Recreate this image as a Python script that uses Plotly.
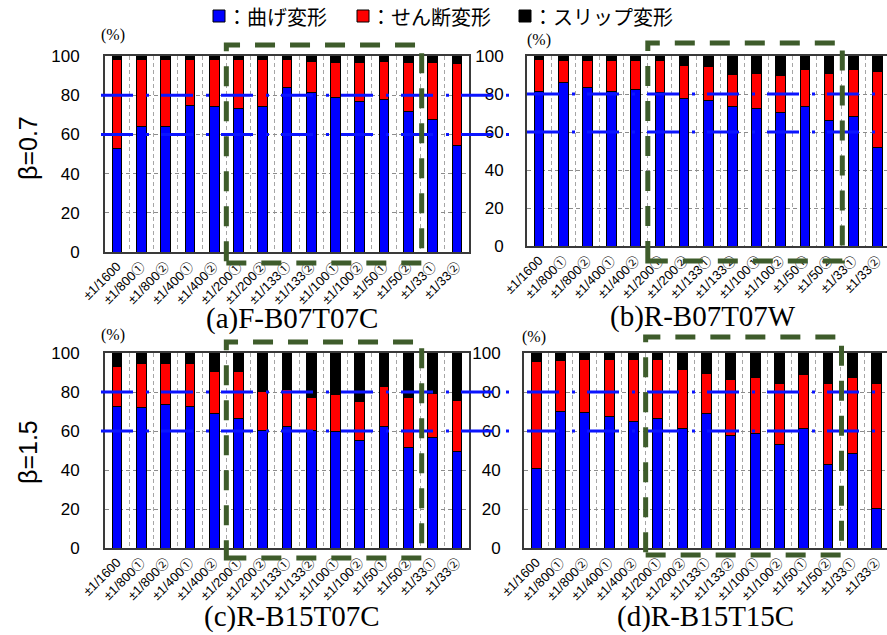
import plotly.graph_objects as go

W, H = 887, 635

categories = ["±1/1600", "±1/800①", "±1/800②", "±1/400①", "±1/400②",
              "±1/200①", "±1/200②", "±1/133①", "±1/133②", "±1/100①",
              "±1/100②", "±1/50①", "±1/50②", "±1/33①", "±1/33②"]

# Deformation share (%) per loading cycle: bending / shear / slip
bend_a = [52.7, 63.8, 63.8, 75.0, 74.0, 73.0, 74.0, 83.8, 81.3, 78.9, 77.0, 77.9, 71.6, 67.5, 54.4]
shear_a = [45.6, 34.2, 34.2, 23.0, 24.0, 25.3, 24.0, 14.2, 16.1, 18.0, 19.6, 19.5, 25.0, 29.4, 41.7]
slip_a = [1.7, 2.0, 2.0, 2.0, 2.0, 1.7, 2.0, 2.0, 2.6, 3.1, 3.4, 2.6, 3.4, 3.1, 3.9]

bend_b = [81.4, 86.0, 83.3, 81.4, 82.3, 80.7, 77.7, 76.8, 73.2, 72.6, 70.2, 73.2, 66.1, 68.1, 51.8]
shear_b = [16.5, 11.4, 14.1, 16.0, 15.1, 16.7, 17.2, 17.6, 17.3, 18.3, 19.3, 19.6, 24.8, 24.7, 40.1]
slip_b = [2.1, 2.6, 2.6, 2.6, 2.6, 2.6, 5.1, 5.6, 9.5, 9.1, 10.5, 7.2, 9.1, 7.2, 8.1]

bend_c = [72.5, 72.0, 73.5, 72.5, 68.9, 66.3, 60.3, 62.2, 60.3, 60.0, 55.0, 62.1, 51.5, 56.6, 49.4]
shear_c = [20.8, 22.4, 20.9, 21.9, 21.4, 24.0, 19.9, 19.0, 17.0, 18.8, 19.9, 20.5, 25.8, 22.7, 26.3]
slip_c = [6.7, 5.6, 5.6, 5.6, 9.7, 9.7, 19.8, 18.8, 22.7, 21.2, 25.1, 17.4, 22.7, 20.7, 24.3]

bend_d = [41.0, 69.9, 69.4, 67.4, 65.0, 66.3, 61.5, 69.1, 57.9, 58.5, 53.0, 61.4, 42.7, 48.4, 20.5]
shear_d = [54.7, 26.3, 27.4, 29.4, 31.8, 30.5, 30.1, 20.6, 28.3, 28.7, 31.6, 27.8, 41.9, 39.1, 64.1]
slip_d = [4.3, 3.8, 3.2, 3.2, 3.2, 3.2, 8.4, 10.3, 13.8, 12.8, 15.4, 10.8, 15.4, 12.5, 15.4]

panel_titles = ["(a)F-B07T07C", "(b)R-B07T07W", "(c)R-B15T07C", "(d)R-B15T15C"]
beta_labels = ["β=0.7", "β=1.5"]
component_names = ["曲げ変形", "せん断変形", "スリップ変形"]
component_colors = ["#0000ff", "#ff0000", "#000000"]
ref_levels = [80, 60]
y_ticks = [0, 20, 40, 60, 80, 100]
y_max = 100

# framed box from the first large-amplitude cycle up to the +1/33 cycles
box_first = "±1/200①"
box_last = "±1/33①"

data = [
    (bend_a, shear_a, slip_a),
    (bend_b, shear_b, slip_b),
    (bend_c, shear_c, slip_c),
    (bend_d, shear_d, slip_d),
]

# pixel geometry of each subplot (left, right, top, bottom) and extras
panels = [
    dict(px=(105, 469), py=(56, 252), xr=(-0.5, 14.5), mirror=True,
         box_y=(45, 263), ref_x=(101, 514), title=(292, 319), pct=(113, 35), tick_pad=20),
    dict(px=(527, 887), py=(56, 246), xr=(-0.5, 14.4), mirror=False,
         box_y=(43, 261), ref_x=(527, 880), title=(703, 316), pct=(539, 40), tick_pad=18),
    dict(px=(105, 469), py=(353, 548), xr=(-0.5, 14.5), mirror=True,
         box_y=(342, 558), ref_x=(101, 514), title=(292, 616), pct=(113, 335), tick_pad=20),
    dict(px=(524, 887), py=(353, 548), xr=(-0.5, 14.42), mirror=False,
         box_y=(337, 555), ref_x=(527, 880), title=(705, 616), pct=(534, 337), tick_pad=18),
]


def paper_x(px):
    return px / W


def paper_y(py):
    return 1 - py / H


fig = go.Figure()
layout = dict(
    width=W, height=H,
    margin=dict(l=0, r=0, t=0, b=0, autoexpand=False),
    paper_bgcolor="white", plot_bgcolor="white",
    barmode="stack",
    showlegend=False,
    shapes=[], annotations=[],
)

GRID = "#8c8c8c"
FRAME = "#3a3a3a"
GREEN = "#3e5c2b"
TICK_FONT = dict(family="Liberation Sans, Arial, sans-serif", size=17, color="black")
CAT_FONT = dict(family="Liberation Sans, Noto Sans CJK JP, sans-serif", size=13, color="black")

for i, (p, series) in enumerate(zip(panels, data)):
    sfx = "" if i == 0 else str(i + 1)
    xa, ya = "x" + sfx, "y" + sfx
    for vals, name, col in zip(series, component_names, component_colors):
        fig.add_trace(go.Bar(
            x=categories, y=vals, name=name, xaxis=xa, yaxis=ya,
            width=0.4, marker=dict(color=col, line=dict(color="black", width=1)),
            showlegend=False, hoverinfo="skip",
        ))

    x0, x1 = p["px"]
    y0, y1 = p["py"]
    layout["xaxis" + sfx] = dict(
        domain=[paper_x(x0), paper_x(x1)], anchor=ya, automargin=False,
        type="category", range=list(p["xr"]),
        tickson="boundaries", showgrid=True, gridcolor="#a6a6a6", griddash="4px,3px", gridwidth=1,
        showline=True, mirror=True, linecolor=FRAME, linewidth=1.5,
        ticks="outside", ticklen=6, tickcolor="rgba(0,0,0,0)",
        tickangle=-45, tickfont=CAT_FONT, fixedrange=True,
    )
    layout["yaxis" + sfx] = dict(
        domain=[paper_y(y1), paper_y(y0)], anchor=xa, automargin=False,
        range=[0, y_max], tickvals=y_ticks,
        showgrid=True, gridcolor=GRID, griddash="4px,3px", gridwidth=1, zeroline=False,
        showline=True, mirror=p["mirror"], linecolor=FRAME, linewidth=2,
        ticks="outside", ticklen=p["tick_pad"], tickcolor="rgba(0,0,0,0)",
        tickfont=TICK_FONT, fixedrange=True,
    )

    # reference levels drawn as blue dash-dot lines across the panel
    rx0 = (p["ref_x"][0] - x0) / (x1 - x0)
    rx1 = (p["ref_x"][1] - x0) / (x1 - x0)
    for lv in ref_levels:
        layout["shapes"].append(dict(
            type="line", xref=xa + " domain", yref=ya + " domain",
            x0=rx0, x1=rx1, y0=lv / y_max, y1=lv / y_max,
            line=dict(color="#0a14ff", width=3, dash="32px,13px,3px,12px"), layer="above",
        ))

    # dashed green frame around the large-amplitude cycles
    xr0, xr1 = p["xr"]
    bl = categories.index(box_first) - 0.5
    br = categories.index(box_last) - 0.45
    layout["shapes"].append(dict(
        type="rect", xref=xa + " domain", yref=ya + " domain",
        x0=(bl - xr0) / (xr1 - xr0), x1=(br - xr0) / (xr1 - xr0),
        y0=(y1 - p["box_y"][1]) / (y1 - y0), y1=(y1 - p["box_y"][0]) / (y1 - y0),
        line=dict(color=GREEN, width=5, dash="20px,15px"), layer="above",
    ))

    # panel caption and unit label
    tx, ty = p["title"]
    layout["annotations"].append(dict(
        text=panel_titles[i], x=paper_x(tx), y=paper_y(ty), xref="paper", yref="paper",
        xanchor="center", yanchor="middle", showarrow=False,
        font=dict(family="Liberation Serif, Times New Roman, serif", size=29, color="black"),
    ))
    ux, uy = p["pct"]
    layout["annotations"].append(dict(
        text="(%)", x=paper_x(ux), y=paper_y(uy), xref="paper", yref="paper",
        xanchor="center", yanchor="middle", showarrow=False,
        font=dict(family="Liberation Serif, Times New Roman, serif", size=16, color="black"),
    ))

# row labels
for lab, cy in zip(beta_labels, [148, 452]):
    layout["annotations"].append(dict(
        text=lab, x=paper_x(28), y=paper_y(cy), xref="paper", yref="paper",
        xanchor="center", yanchor="middle", textangle=-90, showarrow=False,
        font=dict(family="Liberation Sans, Arial, sans-serif", size=25, color="black"),
    ))

# legend row at the top
legend_x = [213, 357, 519]
sq = 12
legend_cy = 16
for name, col, lx in zip(component_names, component_colors, legend_x):
    layout["shapes"].append(dict(
        type="rect", xref="paper", yref="paper",
        x0=paper_x(lx), x1=paper_x(lx + sq),
        y0=paper_y(legend_cy + sq / 2), y1=paper_y(legend_cy - sq / 2),
        fillcolor=col, line=dict(color="black", width=1),
    ))
    layout["annotations"].append(dict(
        text="：" + name, x=paper_x(lx + sq), y=paper_y(legend_cy), xref="paper", yref="paper",
        xanchor="left", yanchor="middle", showarrow=False,
        font=dict(family="Noto Sans CJK JP, sans-serif", size=20, color="black"),
    ))

fig.update_layout(**layout)
fig.write_html("out.html")
